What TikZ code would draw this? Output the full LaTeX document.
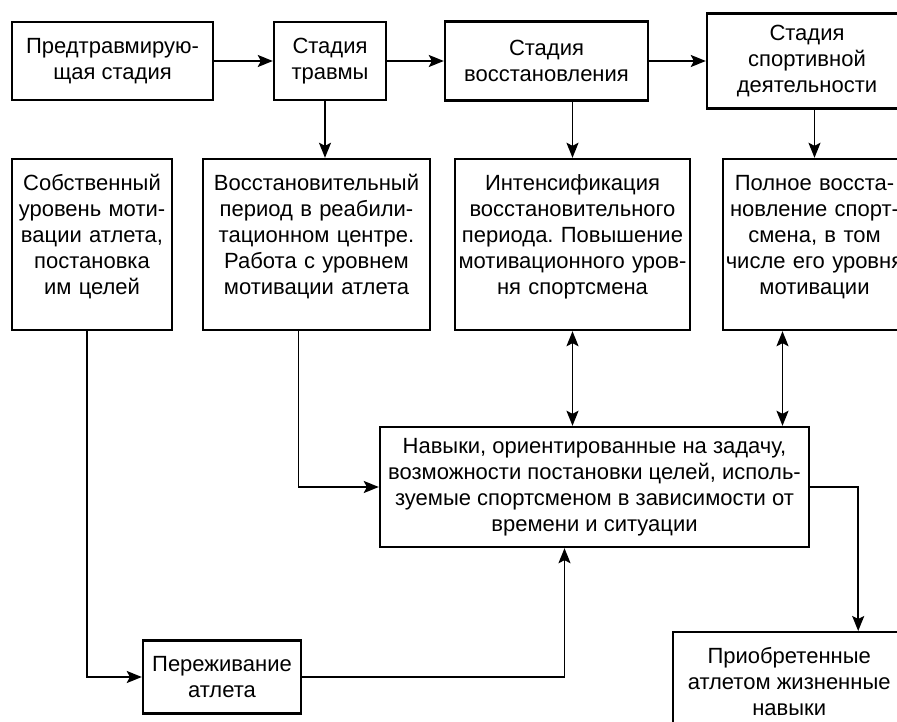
\documentclass[tikz,border=0pt]{standalone}
\usepackage{fontspec}
\setmainfont{Liberation Sans}
\frenchspacing
\usetikzlibrary{arrows.meta,positioning,calc}

\begin{document}
\begin{tikzpicture}[
    x=1pt, y=-1pt,
    >={Stealth[length=15pt,width=12pt,inset=3pt]},
    box/.style={draw, line width=2.4pt, inner sep=0pt, align=center, font=\fontsize{22}{26}\selectfont},
    stagebox/.style={box, minimum height=78pt},
    tallbox/.style={box, text height=31.5pt, text depth=139.5pt},
    arrow/.style={->, line width=1.7pt},
    dblarrow/.style={<->, line width=1.7pt}
]
    \useasboundingbox (0,0) rectangle (897,722);
    \clip (0,0) rectangle (897,722);

    % Stages
    \node[stagebox, minimum width=201pt] at (112.5,61) (pre) {Предтравмирую-\\щая стадия};
    \node[stagebox, minimum width=112pt, right=58.6pt of pre] (trauma) {Стадия\\травмы};
    \node[stagebox, minimum width=203pt, minimum height=79pt, right=56.6pt of trauma] (recov) {Стадия\\восстановления};
    \node[stagebox, minimum width=200pt, minimum height=95pt, right=56.6pt of recov] (sport) {Стадия\\спортивной\\деятельности};

    % Stage contents
    \node[tallbox, text width=160pt] at (92,244.5) (own) {Собственный\\уровень моти-\\вации атлета,\\постановка\\им целей};
    \node[tallbox, text width=227pt, right=28.6pt of own] (rehab) {Восстановительный\\период в реабили-\\тационном центре.\\Работа с уровнем\\мотивации атлета};
    \node[tallbox, text width=235pt, right=22.6pt of rehab] (intens) {Интенсификация\\восстановительного\\периода. Повышение\\мотивационного уров-\\ня спортсмена};
    \node[tallbox, text width=183pt, right=30.6pt of intens] (full) {Полное восста-\\новление спорт-\\смена, в том\\числе его уровня\\мотивации};

    % Skills and outcomes
    \node[box, minimum width=429pt, minimum height=120pt] at (594.5,487) (skills) {Навыки, ориентированные на задачу,\\возможности постановки целей, исполь-\\зуемые спортсменом в зависимости от\\времени и ситуации};
    \node[box, minimum width=158pt, minimum height=73pt] at (222,677) (exper) {Переживание\\атлета};
    \node[box, minimum width=232pt, minimum height=98pt, anchor=north west] at (672,631) (acq) {Приобретенные\\атлетом жизненные\\навыки};

    % Arrows
    \draw[arrow] (pre) -- (trauma);
    \draw[arrow] (trauma) -- (recov);
    \draw[arrow] (recov) -- (sport);
    \draw[arrow] ([xshift=-5pt]trauma.south) -- ([xshift=-5pt]trauma.south |- rehab.north);
    \draw[arrow] (intens.north |- recov.south) -- (intens.north);
    \draw[arrow] (full.north |- sport.south) -- (full.north);
    \draw[dblarrow] (intens.south) -- (intens.south |- skills.north);
    \draw[dblarrow] ([xshift=-32pt]full.south) -- ([xshift=-32pt]full.south |- skills.north);
    \draw[arrow] ([xshift=-18pt]rehab.south) |- (skills.west);
    \draw[arrow] ([xshift=-5pt]own.south) |- (exper.west);
    \draw[arrow] (exper.east) -| ([xshift=-30pt]skills.south);
    \draw[arrow] (skills.east) -| ([xshift=69pt]acq.north);

\end{tikzpicture}
\end{document}
